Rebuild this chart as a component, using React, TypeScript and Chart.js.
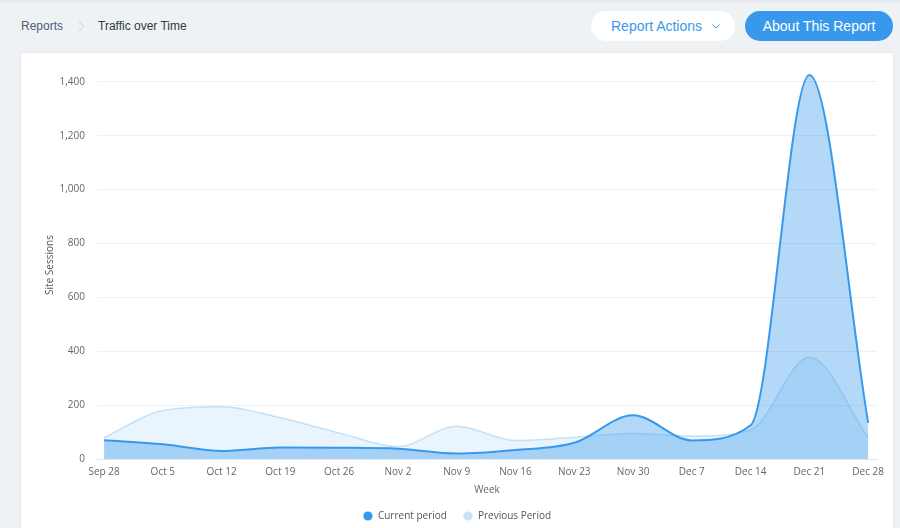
import React, { useEffect, useRef } from "react";
import { Chart, registerables } from "chart.js";

Chart.register(...registerables);

const weeks = ["Sep 28", "Oct 5", "Oct 12", "Oct 19", "Oct 26", "Nov 2", "Nov 9", "Nov 16", "Nov 23", "Nov 30", "Dec 7", "Dec 14", "Dec 21", "Dec 28"];
const currentPeriod = [70, 55, 30, 43, 42, 38, 20, 33, 60, 162, 69, 125, 1425, 134];
const previousPeriod = [79, 180, 194, 153, 97, 46, 122, 69, 81, 95, 85, 108, 378, 80];
const yTickValues = [0, 200, 400, 600, 800, 1000, 1200, 1400];

const BLUE = "#3899ec";
const FONT = "'Open Sans', sans-serif";

function ChartView() {
  const ref = useRef<HTMLCanvasElement | null>(null);
  useEffect(() => {
    if (!ref.current) return;
    const chart = new Chart(ref.current, {
      type: "line",
      data: {
        datasets: [
          {
            label: "Current period",
            data: currentPeriod.map((v, i) => ({ x: i, y: v })),
            borderColor: BLUE,
            backgroundColor: "rgba(56,153,236,0.38)",
            borderWidth: 2,
            fill: "origin",
            pointRadius: 0,
            cubicInterpolationMode: "monotone",
          },
          {
            label: "Previous Period",
            data: previousPeriod.map((v, i) => ({ x: i, y: v })),
            borderColor: "rgba(56,153,236,0.25)",
            backgroundColor: "rgba(56,153,236,0.11)",
            borderWidth: 1.5,
            fill: "origin",
            pointRadius: 0,
            cubicInterpolationMode: "monotone",
          },
        ],
      },
      options: {
        animation: false,
        responsive: false,
        devicePixelRatio: 1,
        layout: { padding: { top: 1, left: 16, right: 16, bottom: 0 } },
        plugins: {
          tooltip: { enabled: false },
          legend: {
            position: "bottom",
            labels: {
              usePointStyle: true,
              pointStyle: "circle",
              boxWidth: 12,
              boxHeight: 6.5,
              padding: 16,
              color: "#555",
              font: { family: FONT, size: 10 },
              generateLabels: (c: any) => {
                const items = Chart.defaults.plugins.legend.labels.generateLabels(c);
                const fills = [BLUE, "#c9e3f9"];
                items.forEach((it: any, i: number) => {
                  it.fillStyle = fills[i];
                  it.strokeStyle = fills[i];
                  it.lineWidth = 0;
                  it.pointStyle = "circle";
                });
                return items;
              },
            },
          },
        },
        scales: {
          x: {
            type: "linear",
            min: -0.12,
            max: 13.15,
            afterBuildTicks: (s: any) => {
              s.ticks = weeks.map((_, i) => ({ value: i }));
            },
            afterFit: (s: any) => {
              s.height = 36;
            },
            ticks: {
              callback: (v: any) => weeks[v as number] ?? "",
              autoSkip: false,
              maxRotation: 0,
              padding: 7,
              color: "#666",
              font: { family: FONT, size: 10 },
            },
            grid: { display: false, drawTicks: false },
            border: { display: true, color: "#dfe6ec", width: 1 },
            title: {
              display: true,
              text: "Week",
              color: "#666",
              font: { family: FONT, size: 10 },
              padding: { top: 0, bottom: -1 },
            },
          },
          y: {
            min: 0,
            max: 1440,
            afterBuildTicks: (s: any) => {
              s.ticks = yTickValues.map((v) => ({ value: v }));
            },
            afterFit: (s: any) => {
              s.width = 60;
            },
            ticks: {
              padding: 12,
              color: "#666",
              font: { family: FONT, size: 10 },
            },
            grid: { color: "#eef0f2", drawTicks: false },
            border: { display: false },
            title: {
              display: true,
              text: "Site Sessions",
              color: "#555",
              font: { family: FONT, size: 10 },
              padding: { top: 7, bottom: 0 },
            },
          },
        },
      } as any,
    });
    return () => chart.destroy();
  }, []);
  return <canvas ref={ref} width={872} height={478} style={{ width: 872, height: 478, display: "block" }} />;
}

export default function App() {
  return (
    <div
      style={{
        position: "fixed",
        left: 0,
        top: 0,
        width: 900,
        height: 528,
        overflow: "hidden",
        background: "#eff2f5",
        fontFamily: "'Liberation Sans', Helvetica, Arial, sans-serif",
      }}
    >
      <div style={{ position: "absolute", left: 0, top: 0, width: 900, height: 4, background: "linear-gradient(#e2e6ea, #eff2f5)" }} />
      <div style={{ position: "absolute", left: 21, top: 19, fontSize: 12, color: "#4a6175", whiteSpace: "nowrap", lineHeight: "14px" }}>
        Reports
      </div>
      <svg style={{ position: "absolute", left: 78, top: 21 }} width={7} height={11}>
        <polyline points="1,0.5 5.5,5.5 1,10.5" fill="none" stroke="#c5ced6" strokeWidth={1} />
      </svg>
      <div style={{ position: "absolute", left: 98, top: 19, fontSize: 12, color: "#2b3b47", whiteSpace: "nowrap", lineHeight: "14px" }}>
        Traffic over Time
      </div>
      <div
        style={{
          position: "absolute",
          left: 591,
          top: 11,
          width: 144,
          height: 30,
          borderRadius: 15,
          background: "#fff",
        }}
      >
        <div style={{ position: "absolute", left: 20, top: 0, color: BLUE, fontSize: 14, lineHeight: "30px", whiteSpace: "nowrap" }}>
          Report Actions
        </div>
        <svg style={{ position: "absolute", left: 121, top: 13 }} width={8} height={5}>
          <polyline points="0.5,0.5 4,4 7.5,0.5" fill="none" stroke={BLUE} strokeWidth={1} />
        </svg>
      </div>
      <div
        style={{
          position: "absolute",
          left: 745,
          top: 11,
          width: 148,
          height: 30,
          borderRadius: 15,
          background: BLUE,
          color: "#fff",
          fontSize: 14,
          lineHeight: "30px",
          textAlign: "center",
          whiteSpace: "nowrap",
        }}
      >
        About This Report
      </div>
      <div
        style={{
          position: "absolute",
          left: 21,
          top: 53,
          width: 872,
          height: 478,
          background: "#fff",
          boxShadow: "0 0 3px rgba(22,45,61,0.10)",
        }}
      >
        <ChartView />
      </div>
    </div>
  );
}
